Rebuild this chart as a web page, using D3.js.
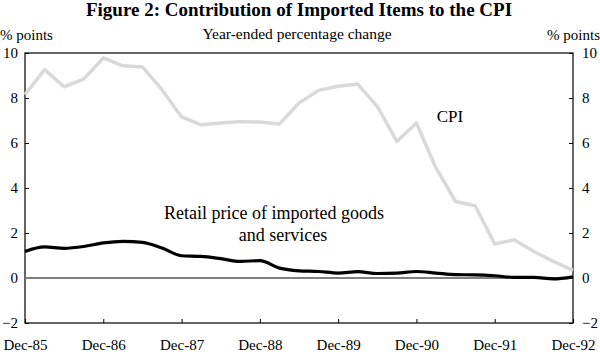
<!DOCTYPE html>
<html>
<head>
<meta charset="utf-8">
<script src="https://cdn.jsdelivr.net/npm/d3@7"></script>
<style>
  body { margin: 0; background: #fff; }
  svg text { font-family: "Liberation Serif", "Times New Roman", serif; }
</style>
</head>
<body>
<svg id="chart" width="600" height="352"></svg>
<script>
// quarterly, Dec-85 .. Dec-92
var quarters = ["Dec-85","Mar-86","Jun-86","Sep-86","Dec-86","Mar-87","Jun-87","Sep-87",
  "Dec-87","Mar-88","Jun-88","Sep-88","Dec-88","Mar-89","Jun-89","Sep-89",
  "Dec-89","Mar-90","Jun-90","Sep-90","Dec-90","Mar-91","Jun-91","Sep-91",
  "Dec-91","Mar-92","Jun-92","Sep-92","Dec-92"];

var cpi = [8.15, 9.26, 8.5, 8.84, 9.78, 9.43, 9.38, 8.37,
  7.16, 6.81, 6.89, 6.95, 6.93, 6.84, 7.78, 8.34,
  8.52, 8.62, 7.63, 6.07, 6.89, 4.89, 3.4, 3.21,
  1.51, 1.7, 1.18, 0.74, 0.34];

var retail = [1.18, 1.38, 1.32, 1.4, 1.56, 1.63, 1.58, 1.33,
  0.99, 0.96, 0.86, 0.74, 0.77, 0.44, 0.32, 0.29,
  0.22, 0.28, 0.2, 0.22, 0.29, 0.22, 0.15, 0.14,
  0.1, 0.03, 0.03, -0.04, 0.05];

var yTicks = [-2, 0, 2, 4, 6, 8, 10];
var xTickLabels = ["Dec-85","Dec-86","Dec-87","Dec-88","Dec-89","Dec-90","Dec-91","Dec-92"];

var svg = d3.select("#chart"),
    margin = {top: 53, right: 27, bottom: 29, left: 25},
    width = +svg.attr("width") - margin.left - margin.right,
    height = +svg.attr("height") - margin.top - margin.bottom,
    g = svg.append("g").attr("transform", "translate(" + margin.left + "," + margin.top + ")");

var x = d3.scalePoint()
    .domain(quarters)
    .range([0, width]);

var y = d3.scaleLinear()
    .domain([-2, 10])
    .range([height, 0]);

// titles
svg.append("text")
    .attr("x", 299).attr("y", 16)
    .attr("text-anchor", "middle")
    .attr("font-size", 19).attr("font-weight", "bold")
    .text("Figure 2: Contribution of Imported Items to the CPI");

svg.append("text")
    .attr("x", 297).attr("y", 39)
    .attr("text-anchor", "middle")
    .attr("font-size", 15.5)
    .text("Year-ended percentage change");

svg.append("text")
    .attr("x", 0).attr("y", 40)
    .attr("font-size", 15)
    .text("% points");

svg.append("text")
    .attr("x", 600).attr("y", 40)
    .attr("text-anchor", "end")
    .attr("font-size", 15)
    .text("% points");

// frame
g.append("rect")
    .attr("width", width).attr("height", height)
    .attr("fill", "none").attr("stroke", "#000").attr("stroke-width", 1.2);

// axes
var yLeft = d3.axisRight(y).tickValues(yTicks).tickSize(4).tickFormat(d3.format("d"));
var yRight = d3.axisLeft(y).tickValues(yTicks).tickSize(4).tickFormat(d3.format("d"));
var xAxis = d3.axisTop(x).tickValues(xTickLabels).tickSize(4);

function styleAxis(a) {
  a.select(".domain").remove();
  a.selectAll(".tick line").attr("stroke", "#000");
  a.selectAll(".tick text").attr("font-family", "Liberation Serif, serif").attr("font-size", 15).attr("fill", "#000");
}

g.append("g").call(yLeft).call(styleAxis)
  .selectAll(".tick text").attr("text-anchor", "end").attr("x", -7);

g.append("g").attr("transform", "translate(" + width + ",0)").call(yRight).call(styleAxis)
  .selectAll(".tick text").attr("text-anchor", "start").attr("x", 9);

g.append("g").attr("transform", "translate(0," + height + ")").call(xAxis).call(styleAxis)
  .selectAll(".tick text").attr("y", 27).attr("dy", 0);

// zero line
g.append("line")
    .attr("x1", 0).attr("x2", width)
    .attr("y1", y(0)).attr("y2", y(0))
    .attr("stroke", "#808080").attr("stroke-width", 2);

var line = d3.line()
    .x(function(d, i) { return x(quarters[i]); })
    .y(function(d) { return y(d); });

g.append("path")
    .datum(cpi)
    .attr("fill", "none")
    .attr("stroke", "#d9d9d9")
    .attr("stroke-width", 3.5)
    .attr("stroke-linejoin", "round")
    .attr("d", line);

g.append("path")
    .datum(retail)
    .attr("fill", "none")
    .attr("stroke", "#000")
    .attr("stroke-width", 3.2)
    .attr("stroke-linejoin", "round")
    .attr("d", line.curve(d3.curveMonotoneX));

// labels
svg.append("text")
    .attr("x", 450).attr("y", 122)
    .attr("text-anchor", "middle")
    .attr("font-size", 17)
    .text("CPI");

svg.append("text")
    .attr("x", 274).attr("y", 219)
    .attr("text-anchor", "middle")
    .attr("font-size", 18)
    .text("Retail price of imported goods");

svg.append("text")
    .attr("x", 283).attr("y", 241)
    .attr("text-anchor", "middle")
    .attr("font-size", 18)
    .text("and services");
</script>
</body>
</html>
